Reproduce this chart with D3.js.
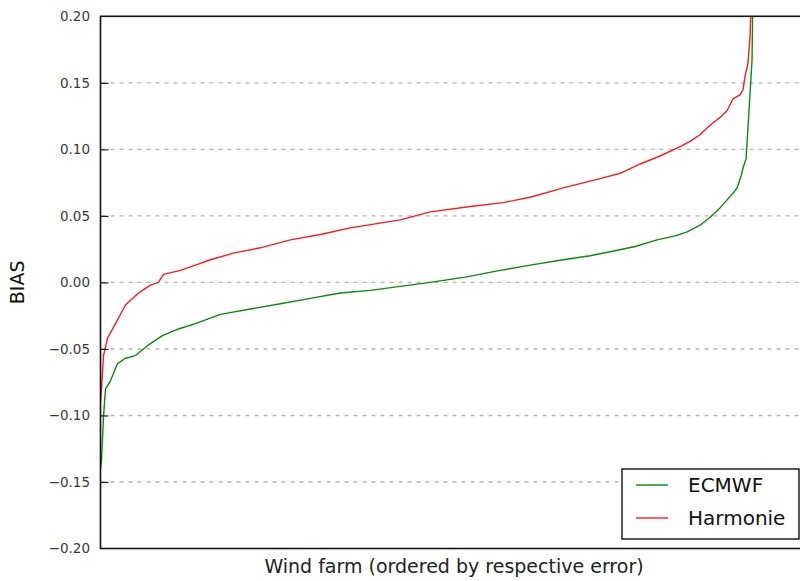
<!DOCTYPE html>
<html>
<head>
<meta charset="utf-8">
<script src="https://cdn.jsdelivr.net/npm/d3@7"></script>
<style>
  html, body { margin: 0; padding: 0; background: #fff; }
  svg { display: block; }
  text { font-family: "DejaVu Sans", sans-serif; }
</style>
</head>
<body>
<svg id="chart" width="800" height="581"></svg>
<script>
// Wind farms ranked by their own bias (rank position along x)
const ecmwfRank = [0, 1, 3, 5, 10, 17, 25, 35, 48, 62, 78, 95, 120, 150, 180, 210, 240, 270, 300, 330, 365, 400, 430, 463, 490, 510, 535, 557, 575, 587, 600, 610, 620, 627, 633, 637, 641, 643, 646, 648, 650, 652, 653];
const ecmwfBias = [-0.140, -0.134, -0.101, -0.080, -0.074, -0.061, -0.057, -0.055, -0.047, -0.040, -0.035, -0.031, -0.024, -0.020, -0.016, -0.012, -0.008, -0.006, -0.003, 0.000, 0.004, 0.009, 0.013, 0.017, 0.020, 0.023, 0.027, 0.032, 0.035, 0.038, 0.043, 0.049, 0.056, 0.062, 0.067, 0.071, 0.080, 0.086, 0.093, 0.117, 0.142, 0.167, 0.230];

const harmonieRank = [0, 1, 3, 7, 15, 25, 38, 50, 58, 63, 80, 95, 110, 133, 160, 190, 220, 250, 300, 330, 370, 403, 430, 463, 500, 520, 540, 560, 580, 590, 600, 607, 613, 620, 627, 633, 640, 643, 645, 648, 650, 652];
const harmonieBias = [-0.090, -0.080, -0.055, -0.042, -0.031, -0.017, -0.008, -0.002, 0.000, 0.006, 0.009, 0.013, 0.017, 0.022, 0.026, 0.032, 0.036, 0.041, 0.047, 0.053, 0.057, 0.060, 0.064, 0.071, 0.078, 0.082, 0.089, 0.095, 0.102, 0.106, 0.111, 0.116, 0.120, 0.124, 0.129, 0.138, 0.141, 0.145, 0.155, 0.165, 0.185, 0.230];

const yTicks = [-0.20, -0.15, -0.10, -0.05, 0.00, 0.05, 0.10, 0.15, 0.20];
const seriesNames = ["ECMWF", "Harmonie"];
const seriesColors = ["#0a8a0a", "#ff1a1a"];

const svg = d3.select("#chart");
const plotLeft = 100.5, plotRight = 806, plotTop = 16.3, plotBottom = 548.5;

const x = d3.scaleLinear().domain([0, 706]).range([plotLeft, plotRight]);
const y = d3.scaleLinear().domain([-0.2, 0.2]).range([plotBottom, plotTop]);

// dashed horizontal grid
svg.append("g")
  .selectAll("line")
  .data(yTicks.filter(t => Math.abs(t) < 0.2 - 1e-9))
  .join("line")
  .attr("x1", plotLeft).attr("x2", plotRight)
  .attr("y1", d => y(d)).attr("y2", d => y(d))
  .attr("stroke", "#b4b4b4")
  .attr("stroke-width", 1.4)
  .attr("stroke-dasharray", "4,5")
  .attr("stroke-dashoffset", -10);

// clip region for the data lines
svg.append("defs").append("clipPath").attr("id", "plot-clip")
  .append("rect")
  .attr("x", plotLeft).attr("y", plotTop)
  .attr("width", plotRight - plotLeft).attr("height", plotBottom - plotTop);

const line = d3.line().x(d => x(d[0])).y(d => y(d[1]));
const series = [
  d3.zip(ecmwfRank, ecmwfBias),
  d3.zip(harmonieRank, harmonieBias)
];

svg.append("g").attr("clip-path", "url(#plot-clip)")
  .selectAll("path")
  .data(series)
  .join("path")
  .attr("d", line)
  .attr("fill", "none")
  .attr("stroke", (d, i) => seriesColors[i])
  .attr("stroke-width", 1.4)
  .attr("stroke-linejoin", "round");

// y axis with inward ticks
const fmt = v => (v < 0 ? "\u2212" : "") + d3.format(".2f")(Math.abs(v));
const yAxis = d3.axisLeft(y).tickValues(yTicks).tickSize(-8).tickPadding(10.5).tickFormat(fmt);
const gy = svg.append("g").attr("transform", `translate(${plotLeft},0)`).call(yAxis);
gy.select(".domain").remove();
gy.selectAll(".tick line").attr("stroke", "#222").attr("stroke-width", 1.2);
gy.selectAll(".tick text")
  .attr("font-family", "DejaVu Sans, sans-serif")
  .attr("font-size", 13.5)
  .attr("fill", "#3a3a3a");
// the top/bottom tick marks sit on the frame
gy.selectAll(".tick").filter(d => Math.abs(d) >= 0.2 - 1e-9).select("line").remove();

// axes frame
svg.append("rect")
  .attr("x", plotLeft).attr("y", plotTop)
  .attr("width", plotRight - plotLeft).attr("height", plotBottom - plotTop)
  .attr("fill", "none")
  .attr("stroke", "#111")
  .attr("stroke-width", 1.6);

// axis titles
svg.append("text")
  .attr("transform", `translate(24,${(plotTop + plotBottom) / 2}) rotate(-90)`)
  .attr("text-anchor", "middle")
  .attr("font-size", 19)
  .attr("fill", "#111")
  .text("BIAS");

svg.append("text")
  .attr("x", 454)
  .attr("y", 573)
  .attr("text-anchor", "middle")
  .attr("font-size", 19)
  .attr("fill", "#222")
  .text("Wind farm (ordered by respective error)");

// legend
const lg = svg.append("g");
lg.append("rect")
  .attr("x", 622).attr("y", 469)
  .attr("width", 177).attr("height", 70)
  .attr("fill", "#fff")
  .attr("stroke", "#111")
  .attr("stroke-width", 1.4);
const items = lg.selectAll("g.item")
  .data(seriesNames)
  .join("g")
  .attr("class", "item")
  .attr("transform", (d, i) => `translate(0,${485 + i * 33})`);
items.append("line")
  .attr("x1", 636).attr("x2", 668)
  .attr("stroke", (d, i) => seriesColors[i])
  .attr("stroke-width", 1.4);
items.append("text")
  .attr("x", 688).attr("y", 7)
  .attr("font-size", 20)
  .attr("fill", "#111")
  .text(d => d);
</script>
</body>
</html>
